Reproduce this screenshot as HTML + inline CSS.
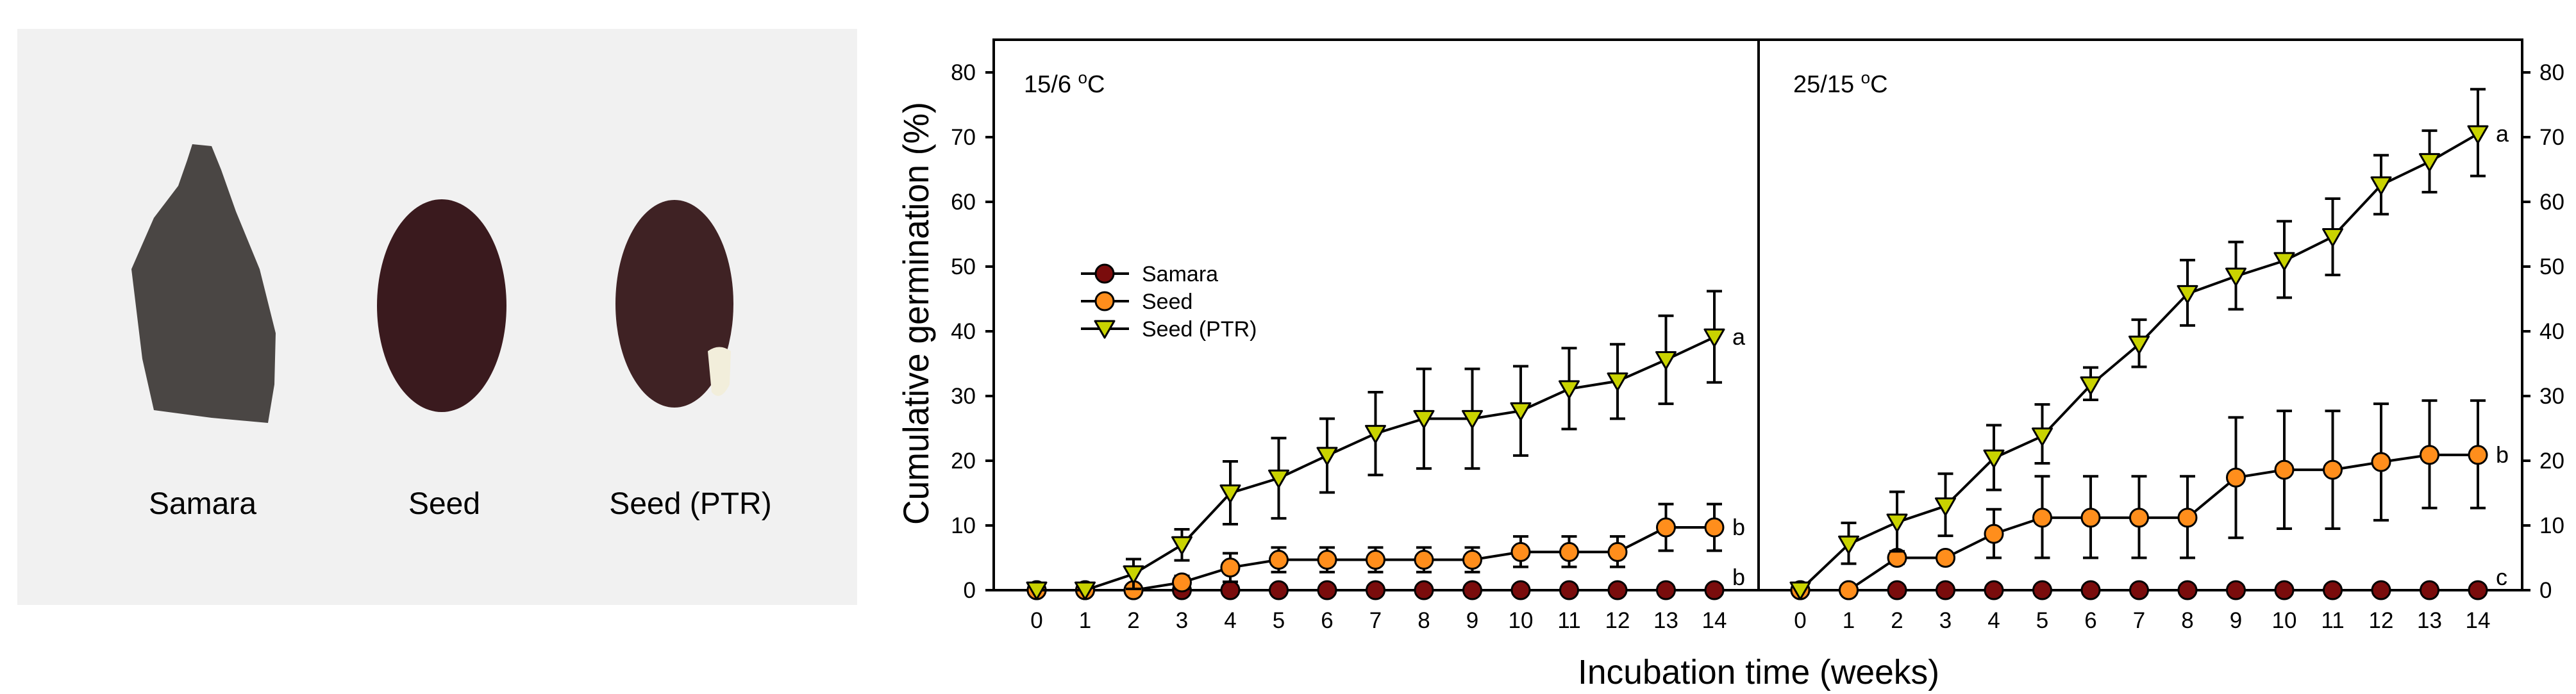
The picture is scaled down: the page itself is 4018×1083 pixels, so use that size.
<!DOCTYPE html>
<html><head><meta charset="utf-8">
<style>
html,body{margin:0;padding:0;background:#fff;}
svg{display:block;font-family:"Liberation Sans",Arial,sans-serif;}
</style></head>
<body>
<svg id="fig" width="4018" height="1083" viewBox="0 0 4018 1083" xmlns="http://www.w3.org/2000/svg">
  <g>
    <rect x="27" y="45" width="1310" height="899" fill="#f1f1f1"/>
    <path d="M300,225 L330,228 L345,265 L368,330 L405,420 L430,520 L428,600 L418,660 L330,652 L240,640 L222,560 L205,420 L240,340 L278,290 L292,250 Z" fill="#4a4644"/>
    <ellipse cx="689" cy="477" rx="101" ry="166" fill="#3a1a1e"/>
    <ellipse cx="1052" cy="474" rx="92" ry="162" fill="#3f2224"/>
    <path d="M1104,548 Q1122,535 1140,548 L1138,600 Q1124,628 1110,612 Z" fill="#f2eedb"/>
    <text x="316" y="802" font-size="48" text-anchor="middle">Samara</text>
    <text x="693" y="802" font-size="48" text-anchor="middle">Seed</text>
    <text x="1077" y="802" font-size="48" text-anchor="middle">Seed (PTR)</text>
  </g>
  <g id="chart"></g>
</svg>
<script>
const weeks = [0,1,2,3,4,5,6,7,8,9,10,11,12,13,14];
const yTicks = [0,10,20,30,40,50,60,70,80];
const seriesNames = ["Samara","Seed","Seed (PTR)"];
// Panel 1: 15/6 C
const p1Samara = [0,0,0,0,0,0,0,0,0,0,0,0,0,0,0];
const p1Seed = [0,0,0,1.2,3.5,4.7,4.7,4.7,4.7,4.7,5.9,5.9,5.9,9.7,9.7];
const p1SeedHi = [null,null,null,2.2,5.7,6.6,6.6,6.6,6.6,6.6,8.3,8.3,8.3,13.3,13.3];
const p1SeedLo = [null,null,null,0.2,1.3,2.8,2.8,2.8,2.8,2.8,3.6,3.6,3.6,6.1,6.1];
const p1Ptr = [0,0,2.5,7,15,17.3,20.8,24.2,26.5,26.5,27.7,31.1,32.3,35.6,39.1];
const p1PtrHi = [null,null,4.8,9.4,19.9,23.5,26.5,30.6,34.2,34.2,34.6,37.4,38,42.4,46.2];
const p1PtrLo = [null,null,0.2,4.6,10.2,11.1,15.1,17.8,18.8,18.8,20.8,24.9,26.5,28.8,32.1];
const p1Letters = ["b","b","a"];
// Panel 2: 25/15 C
const p2Samara = [0,0,0,0,0,0,0,0,0,0,0,0,0,0,0];
const p2Seed = [0,0,5,5,8.7,11.2,11.2,11.2,11.2,17.4,18.6,18.6,19.8,20.9,20.9];
const p2SeedHi = [null,null,5.9,null,12.5,17.6,17.6,17.6,17.6,26.7,27.7,27.7,28.8,29.3,29.3];
const p2SeedLo = [null,null,4.1,null,5,5,5,5,5,8.1,9.5,9.5,10.8,12.7,12.7];
const p2Ptr = [0,7.1,10.5,13,20.4,23.8,31.7,38,45.8,48.5,50.9,54.6,62.6,66.2,70.5];
const p2PtrHi = [null,10.4,15.2,18,25.5,28.7,34.4,41.8,51,53.8,57,60.5,67.2,71,77.4];
const p2PtrLo = [null,4.1,6,8.4,15.5,19.6,29.4,34.5,40.9,43.4,45.2,48.7,58.1,61.5,64];
const p2Letters = ["c","b","a"];

const NS = "http://www.w3.org/2000/svg";
const g = document.getElementById("chart");
const Y0 = 921, YTOP = 62, PER10 = 101;
const yScale = v => Y0 - v * PER10 / 10;
const X1 = 1617, X2 = 2808, STEP = 75.5;
const xScale1 = w => X1 + w * STEP;
const xScale2 = w => X2 + w * STEP;
const LEFT = 1550, MID = 2743, RIGHT = 3934;

function mk(tag, attrs, parent) {
  const e = document.createElementNS(NS, tag);
  for (const k in attrs) e.setAttribute(k, attrs[k]);
  (parent || g).appendChild(e);
  return e;
}
function txt(x, y, s, size, anchor, parent) {
  const t = mk("text", {x: x, y: y, "font-size": size, "text-anchor": anchor || "middle"}, parent);
  t.textContent = s;
  return t;
}

// frame
let e;
e = mk("path", {d: `M${LEFT},${Y0} L${LEFT},${YTOP} L${RIGHT},${YTOP} L${RIGHT},${Y0}`, fill: "none", stroke: "#000", "stroke-width": 4});


e = mk("line", {x1: MID, y1: YTOP, x2: MID, y2: Y0, stroke: "#000", "stroke-width": 4});


e = mk("line", {x1: LEFT, y1: Y0, x2: RIGHT, y2: Y0, stroke: "#000", "stroke-width": 4});



// y ticks
yTicks.forEach(v => {
  const y = yScale(v);
  let t = mk("line", {x1: LEFT - 13, y1: y, x2: LEFT, y2: y, stroke: "#000", "stroke-width": 4});
  
  
  t = mk("line", {x1: RIGHT, y1: y, x2: RIGHT + 13, y2: y, stroke: "#000", "stroke-width": 4});
  
  
  let l = txt(LEFT - 28, y + 12, String(v), 35, "end");
  
  
  l = txt(RIGHT + 27, y + 12, String(v), 35, "start");
  
  
});

// x tick labels
[xScale1, xScale2].forEach(xs => {
  weeks.forEach(w => {
    const l = txt(xs(w), 980, String(w), 35, "middle");
    
    
  });
});

// axis titles
e = txt(0, 0, "Cumulative germination (%)", 56, "middle");
e.setAttribute("transform", "translate(1448,489) rotate(-90)");
e.setAttribute("textLength", "660");
e.setAttribute("lengthAdjust", "spacingAndGlyphs");


e = txt(MID, 1067, "Incubation time (weeks)", 54, "middle");
e.setAttribute("textLength", "564");
e.setAttribute("lengthAdjust", "spacingAndGlyphs");



// panel titles
function panelTitle(x, main, name) {
  const t = mk("text", {x: x, y: 144, "font-size": 38});
  
  
  const a = document.createElementNS(NS, "tspan"); a.textContent = main + " "; t.appendChild(a);
  const b = document.createElementNS(NS, "tspan"); b.setAttribute("dy", "-14"); b.setAttribute("font-size", "26"); b.textContent = "o"; t.appendChild(b);
  const c = document.createElementNS(NS, "tspan"); c.setAttribute("dy", "14"); c.textContent = "C"; t.appendChild(c);
}
panelTitle(1597, "15/6", "panel-title-15-6");
panelTitle(2797, "25/15", "panel-title-25-15");

const colors = ["#7a0c0c", "#ff8e1c", "#c9d300"];

function marker(kind, x, y, color, parent) {
  let m;
  if (kind === 2) {
    m = mk("path", {d: `M${x-15},${y-12} L${x+15},${y-12} L${x},${y+14} Z`, fill: color, stroke: "#000", "stroke-width": 3, "stroke-linejoin": "round"}, parent);
  } else {
    m = mk("circle", {cx: x, cy: y, r: 14, fill: color, stroke: "#000", "stroke-width": 3}, parent);
  }
  return m;
}

function drawSeries(xs, vals, hi, lo, kind, name) {
  const grp = mk("g", {});
  
  
  if (hi) {
    weeks.forEach((w, i) => {
      const x = xs(w);
      if (hi[i] != null) {
        let b = mk("path", {d: `M${x},${yScale(vals[i])} L${x},${yScale(hi[i])} M${x-12},${yScale(hi[i])} L${x+12},${yScale(hi[i])}`, stroke: "#000", "stroke-width": 4, fill: "none"}, grp);
        
        
      }
      if (lo[i] != null) {
        let b = mk("path", {d: `M${x},${yScale(vals[i])} L${x},${yScale(lo[i])} M${x-12},${yScale(lo[i])} L${x+12},${yScale(lo[i])}`, stroke: "#000", "stroke-width": 4, fill: "none"}, grp);
        
        
      }
    });
  }
  const pts = weeks.map((w, i) => xs(w) + "," + yScale(vals[i])).join(" ");
  const ln = mk("polyline", {points: pts, fill: "none", stroke: "#000", "stroke-width": 4}, grp);
  
  
  weeks.forEach((w, i) => {
    const m = marker(kind, xs(w), yScale(vals[i]), colors[kind], grp);
    
    
  });
}

drawSeries(xScale1, p1Samara, null, null, 0, "p1-samara-series");
drawSeries(xScale1, p1Seed, p1SeedHi, p1SeedLo, 1, "p1-seed-series");
drawSeries(xScale1, p1Ptr, p1PtrHi, p1PtrLo, 2, "p1-seed-ptr-series");
drawSeries(xScale2, p2Samara, null, null, 0, "p2-samara-series");
drawSeries(xScale2, p2Seed, p2SeedHi, p2SeedLo, 1, "p2-seed-series");
drawSeries(xScale2, p2Ptr, p2PtrHi, p2PtrLo, 2, "p2-seed-ptr-series");

// significance letters
function letters(xs, arrs, labs, offs) {
  arrs.forEach((a, k) => {
    const l = txt(xs(14) + 28, yScale(a[14]) + 12 + offs[k], labs[k], 36, "start");
    
    
  });
}
letters(xScale1, [p1Samara, p1Seed, p1Ptr], p1Letters, [-20, 0, 0]);
letters(xScale2, [p2Samara, p2Seed, p2Ptr], p2Letters, [-20, 0, 0]);

// legend
const lg = mk("g", {});


const legendY = [427, 470, 513];
seriesNames.forEach((n, k) => {
  const y = legendY[k];
  const ln = mk("line", {x1: 1686, y1: y, x2: 1761, y2: y, stroke: "#000", "stroke-width": 4}, lg);
  
  
  const m = marker(k, 1723, y, colors[k], lg);
  
  
  const t = txt(1781, y + 12, n, 34, "start", lg);
  
  
});
</script>
</body></html>
